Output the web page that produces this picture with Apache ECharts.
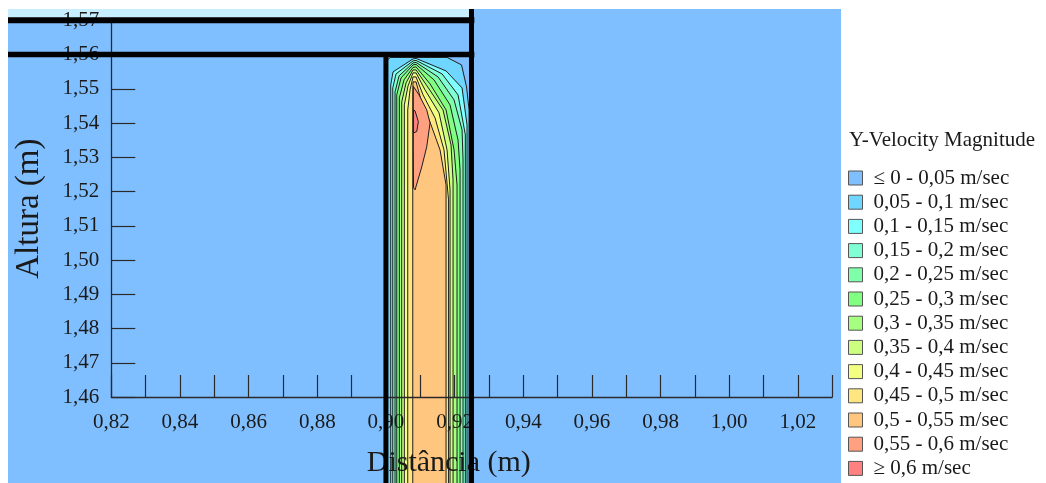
<!DOCTYPE html>
<html><head><meta charset="utf-8">
<script src="https://cdn.jsdelivr.net/npm/echarts@6/dist/echarts.min.js"></script>
<style>html,body{margin:0;padding:0;background:#fff}#c{width:1046px;height:483px}</style>
</head><body><div id="c"></div>
<script>
// ---------- data ----------
const legendTitle = 'Y-Velocity Magnitude';
const legendLabels = ['≤ 0 - 0,05 m/sec','0,05 - 0,1 m/sec','0,1 - 0,15 m/sec','0,15 - 0,2 m/sec','0,2 - 0,25 m/sec','0,25 - 0,3 m/sec','0,3 - 0,35 m/sec','0,35 - 0,4 m/sec','0,4 - 0,45 m/sec','0,45 - 0,5 m/sec','0,5 - 0,55 m/sec','0,55 - 0,6 m/sec','≥ 0,6 m/sec'];
const bandColors = ['#80bfff','#6fd6ff','#80ffff','#80ffd4','#80ffaa','#80ff80','#a6ff80','#ccff80','#f2ff80','#ffe680','#ffc680','#ffa080','#ff8080'];
const xRange = [0.82, 1.03];
const yRange = [1.46, 1.57];
const tickStep = 0.01;
// domain (everything below 0,05 m/sec)
const contour000 = [[0.70,1.40],[1.10,1.40],[1.10,1.60],[0.70,1.60]];
// outlines of the regions where velocity >= level (x m, y m)
const contour005 = [[0.9000,1.434],[0.9000,1.55787],[0.90119,1.55918],[0.91780,1.55918],[0.92202,1.55700],[0.92348,1.55059],[0.92421,1.54389],[0.92421,1.434]];
const contour010 = [[0.90140,1.434],[0.90140,1.55117],[0.90207,1.55496],[0.90789,1.55875],[0.90877,1.55889],[0.91751,1.55525],[0.92217,1.55030],[0.92362,1.53952],[0.92362,1.434]];
const contour015 = [[0.90198,1.434],[0.90198,1.55030],[0.90294,1.55438],[0.90789,1.55816],[0.90877,1.55831],[0.91634,1.55438],[0.92100,1.54826],[0.92313,1.53661],[0.92313,1.434]];
const contour020 = [[0.90265,1.434],[0.90265,1.54913],[0.90382,1.55380],[0.90789,1.55758],[0.90877,1.55773],[0.91518,1.55350],[0.91984,1.54680],[0.92217,1.53807],[0.92246,1.52933],[0.92246,1.434]];
const contour025 = [[0.90315,1.434],[0.90315,1.54826],[0.90440,1.55321],[0.90789,1.55700],[0.90877,1.55715],[0.91401,1.55263],[0.91867,1.54535],[0.92100,1.53515],[0.92159,1.52641],[0.92159,1.434]];
const contour030 = [[0.90390,1.434],[0.90390,1.54739],[0.90527,1.55263],[0.90789,1.55627],[0.90877,1.55642],[0.91285,1.55147],[0.91751,1.54389],[0.91984,1.53224],[0.92071,1.52205],[0.92071,1.434]];
const contour035 = [[0.90460,1.434],[0.90460,1.54622],[0.90586,1.55176],[0.90789,1.55554],[0.90877,1.55554],[0.91197,1.55088],[0.91663,1.54389],[0.91896,1.53370],[0.91955,1.52350],[0.91955,1.434]];
const contour040 = [[0.90536,1.434],[0.90536,1.54535],[0.90644,1.55088],[0.90789,1.55467],[0.90877,1.55467],[0.91139,1.54972],[0.91547,1.54302],[0.91780,1.53224],[0.91867,1.52059],[0.91867,1.434]];
const contour045 = [[0.90635,1.434],[0.90635,1.54389],[0.90702,1.54972],[0.90789,1.55350],[0.90877,1.55350],[0.91081,1.54826],[0.91430,1.54156],[0.91692,1.53224],[0.91824,1.51767],[0.91824,1.434]];
const contour050 = [[0.90781,1.434],[0.90781,1.54826],[0.90789,1.55205],[0.90877,1.55205],[0.91022,1.54680],[0.91314,1.53952],[0.91576,1.53224],[0.91751,1.52205],[0.91751,1.434]];
const contour055 = [[0.90798,1.55074],[0.90964,1.54826],[0.91188,1.54389],[0.91285,1.54010],[0.91188,1.53311],[0.91043,1.52729],[0.90848,1.52059],[0.90804,1.52117],[0.90798,1.53224]];
const contour060 = [[0.90804,1.54389],[0.90848,1.54360],[0.90944,1.54048],[0.90897,1.53757],[0.90804,1.53719]];
// strip above the upper wall
const topStrip = [[0.70,1.57],[0.92492,1.57],[0.92492,1.60],[0.70,1.60]];
// walls: x1, y1, x2, y2 (m)
const walls = [[0.70,1.57,0.92575,1.57],[0.70,1.56,0.92575,1.56],[0.90,1.40,0.90,1.5606],[0.92492,1.40,0.92492,1.60]];

// ---------- layout ----------
const PX_PER_M = 3433;
const ORIGIN = {x:111.3, y:397.9};
const PLOT = {left:8, top:9, right:841, bottom:483};
const wallWidths = [6, 5.5, 5, 5];
const FONT = 'Liberation Serif';
const TXT = '#1a1a1a';

const contours = [contour000,contour005,contour010,contour015,contour020,contour025,contour030,contour035,contour040,contour045,contour050,contour055,contour060];

const dX0 = xRange[0] - (ORIGIN.x - PLOT.left)/PX_PER_M;
const dX1 = xRange[0] + (PLOT.right - ORIGIN.x)/PX_PER_M;
const dY0 = yRange[0] - (PLOT.bottom - ORIGIN.y)/PX_PER_M;
const dY1 = yRange[0] + (ORIGIN.y - PLOT.top)/PX_PER_M;
const axW = (xRange[1]-xRange[0])*PX_PER_M;
const axH = (yRange[1]-yRange[0])*PX_PER_M;

const fmt = v => v.toFixed(2).replace('.', ',');

const series = contours.map((pts, i) => ({
  type:'custom', name: legendLabels[i], xAxisIndex:0, yAxisIndex:0, z:2, clip:true, silent:true,
  itemStyle:{color: bandColors[i]},
  data:[pts[0]],
  renderItem:(params, api) => ({
    type:'polygon',
    shape:{points: pts.map(p => api.coord(p))},
    style:{fill: bandColors[i], stroke: i === 0 ? null : '#1e1e1e', lineWidth: i === 0 ? 0 : 1}
  })
}));
series.push({
  type:'custom', name:'strip', xAxisIndex:0, yAxisIndex:0, z:3, clip:true, silent:true,
  data:[topStrip[0]],
  renderItem:(params, api) => ({
    type:'polygon', shape:{points: topStrip.map(p => api.coord(p))}, style:{fill:'#c6eeff'}
  })
});
series.push({
  type:'custom', name:'walls', xAxisIndex:0, yAxisIndex:0, z:10, clip:true, silent:true,
  data: walls,
  renderItem:(params, api) => {
    const a = api.coord([api.value(0), api.value(1)]);
    const b = api.coord([api.value(2), api.value(3)]);
    return {type:'line', shape:{x1:a[0],y1:a[1],x2:b[0],y2:b[1]}, style:{stroke:'#000', lineWidth: wallWidths[params.dataIndex]}};
  }
});

const chart = echarts.init(document.getElementById('c'), null, {renderer:'canvas'});
chart.setOption({
  animation:false,
  backgroundColor:'#fff',
  title:{text: legendTitle, left:849, top:130, padding:0,
    textStyle:{fontFamily:FONT, fontSize:21, fontWeight:'normal', color:TXT}},
  legend:{
    orient:'vertical', left:848, top:167.5, height:340, padding:0, itemWidth:14, itemHeight:14, itemGap:3.2,
    selectedMode:false,
    data: legendLabels.map(n => ({name:n, icon:'rect'})),
    itemStyle:{borderColor:'#555', borderWidth:1},
    textStyle:{fontFamily:FONT, fontSize:21, color:TXT, lineHeight:21, padding:[0,0,0,6]}
  },
  grid:[
    {left:PLOT.left, top:PLOT.top, width:PLOT.right-PLOT.left, height:PLOT.bottom-PLOT.top, show:false},
    {left:ORIGIN.x, top:ORIGIN.y-axH, width:axW, height:axH, show:false}
  ],
  xAxis:[
    {gridIndex:0, type:'value', min:dX0, max:dX1, show:false},
    {gridIndex:1, type:'value', min:xRange[0], max:xRange[1], interval:tickStep, z:5,
      axisLine:{show:true, lineStyle:{color:'#2a2a2a', width:1.3}},
      axisTick:{show:true, inside:true, length:22, lineStyle:{color:'#2a2a2a', width:1.2}},
      splitLine:{show:false},
      axisLabel:{margin:15, fontFamily:FONT, fontSize:21, color:TXT,
        formatter: v => (Math.round(v*100) % 2 === 0 ? fmt(v) : '')},
      name:'Distância (m)', nameLocation:'middle', nameGap:51,
      nameTextStyle:{fontFamily:FONT, fontSize:30, color:TXT, padding:[0,46,0,0]}
    }
  ],
  yAxis:[
    {gridIndex:0, type:'value', min:dY0, max:dY1, show:false},
    {gridIndex:1, type:'value', min:yRange[0], max:yRange[1], interval:tickStep, z:5,
      axisLine:{show:true, lineStyle:{color:'#2a2a2a', width:1.3}},
      axisTick:{show:true, inside:true, length:24, lineStyle:{color:'#2a2a2a', width:1.2}},
      splitLine:{show:false},
      axisLabel:{margin:12, fontFamily:FONT, fontSize:21, color:TXT, formatter: fmt},
      name:'Altura (m)', nameLocation:'middle', nameGap:65,
      nameTextStyle:{fontFamily:FONT, fontSize:33, color:TXT}
    }
  ],
  series: series
});
</script></body></html>
